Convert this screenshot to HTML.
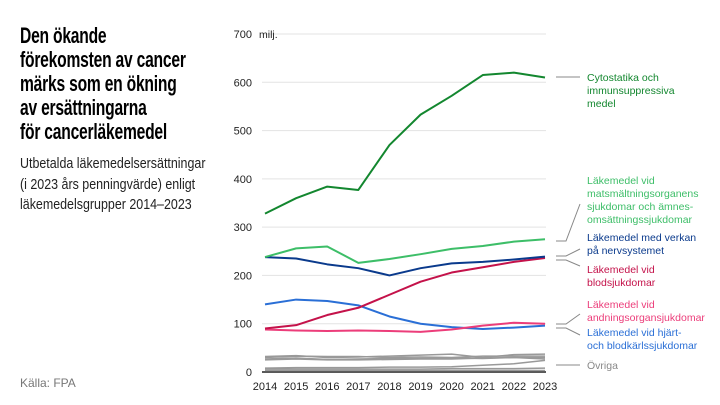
<!DOCTYPE html>
<html><head><meta charset="utf-8"><style>
body{margin:0;width:720px;height:405px;background:#fff;overflow:hidden;font-family:"Liberation Sans",sans-serif;position:relative}
#title{position:absolute;left:20px;top:24px;font-weight:bold;font-size:22px;line-height:24px;color:#000;letter-spacing:-0.3px;transform:scaleX(0.71);transform-origin:0 0;white-space:nowrap}
#sub{position:absolute;left:20px;top:154px;font-size:15px;line-height:20.5px;color:#222;transform:scaleX(0.83);transform-origin:0 0;white-space:nowrap}
#src{position:absolute;left:20px;top:376px;font-size:12px;color:#777}
svg{position:absolute;left:0;top:0}
</style></head><body>
<div id="title">Den ökande<br>förekomsten av cancer<br>märks som en ökning<br>av ersättningarna<br>för cancerläkemedel</div>
<div id="sub">Utbetalda läkemedelsersättningar<br>(i 2023 års penningvärde) enligt<br>läkemedelsgrupper 2014–2023</div>
<div id="src">Källa: FPA</div>
<svg id="chart" width="720" height="405"></svg>
<script>
const years=[2014,2015,2016,2017,2018,2019,2020,2021,2022,2023];
const yTicks=[0,100,200,300,400,500,600,700];
const cyto=[328,360,384,377,470,533,572,615,620,610];
const matsmalt=[238,256,260,226,234,244,255,261,270,275];
const nerv=[238,235,223,215,200,215,225,228,233,239];
const blod=[90,97,118,133,160,187,206,217,228,236];
const andning=[88,86,85,86,85,83,88,96,102,100];
const hjart=[140,150,147,138,115,100,93,89,92,96];
const ovr1=[32,34,30,31,33,35,37,30,36,37];
const ovr2=[30,33,32,32,30,31,30,33,33,33];
const ovr3=[27,29,26,27,28,28,29,28,30,30];
const ovr4=[25,27,25,25,26,27,27,29,30,27];
const ovr5=[8,9,9,9,10,10,11,14,17,24];
const ovr6=[6,6,6,6,6,6,7,7,7,8];
const ovr7=[3,3,3,3,3,3,3,3,3,3];
const svg=document.getElementById('chart');
const NS='http://www.w3.org/2000/svg';
const x=i=>265+i*(545-265)/(years.length-1);
const y=v=>372-v*(372-34)/700;
function mk(t,a){const e=document.createElementNS(NS,t);for(const k in a)e.setAttribute(k,a[k]);svg.appendChild(e);return e;}
yTicks.forEach(t=>{
 const g=mk('line',{x1:262,x2:546,y1:y(t),y2:y(t),stroke:t===0?'#222':'#e3e3e3','stroke-width':t===0?1.5:1});
 
 
 const l=mk('text',{x:252,y:y(t)+4,'text-anchor':'end','font-size':11,fill:'#222'});
 l.textContent=t;
 
 
});
const mu=mk('text',{x:259,y:38,'font-size':10.5,fill:'#222'});mu.textContent='milj.';


years.forEach((yr,i)=>{
 const t=mk('text',{x:x(i),y:390,'text-anchor':'middle','font-size':11,fill:'#222'});
 t.textContent=yr;
 
 
});
function line(d,c,w,name){
 const p=mk('polyline',{points:d.map((v,i)=>x(i)+','+y(v)).join(' '),fill:'none',stroke:c,'stroke-width':w,'stroke-linejoin':'round'});
 
 
}
[ovr1,ovr2,ovr3,ovr4,ovr5,ovr6,ovr7].forEach((d,k)=>line(d,'#999',1.5,'line-ovriga-'+(k+1)));
line(hjart,'#2a6fd6',2,'line-hjart');
line(andning,'#ec3d7a',2,'line-andning');
line(blod,'#c4124a',2,'line-blod');
line(nerv,'#0a3a8c',2,'line-nerv');
line(matsmalt,'#3dbe68',2,'line-matsmalt');
line(cyto,'#13872f',2,'line-cyto');
function conn(pts,name){
 const p=mk('polyline',{points:pts,fill:'none',stroke:'#888','stroke-width':1});
 
 
}
conn('556,77 580,77','connector-cyto');
conn('556,241 566,241 580,204','connector-matsmalt');
conn('556,256 566,256 580,249','connector-nerv');
conn('556,260 566,260 580,266','connector-blod');
conn('556,324 566,324 580,314','connector-andning');
conn('556,328 566,328 580,335','connector-hjart');
conn('556,365 580,365','connector-ovriga');
function lbl(lines,c,top,name){
 const t=mk('text',{x:587,y:top,'font-size':10.5,fill:c});
 
 
 lines.forEach((s,i)=>{const ts=document.createElementNS(NS,'tspan');ts.setAttribute('x',587);ts.setAttribute('dy',i?13:0);ts.textContent=s;t.appendChild(ts);});
}
lbl(['Cytostatika och','immunsuppressiva','medel'],'#13872f',81,'label-cyto');
lbl(['Läkemedel vid','matsmältningsorganens','sjukdomar och ämnes-','omsättningssjukdomar'],'#3dbe68',184,'label-matsmalt');
lbl(['Läkemedel med verkan','på nervsystemet'],'#0a3a8c',241,'label-nerv');
lbl(['Läkemedel vid','blodsjukdomar'],'#c4124a',273,'label-blod');
lbl(['Läkemedel vid','andningsorgansjukdomar'],'#ec3d7a',308,'label-andning');
lbl(['Läkemedel vid hjärt-','och blodkärlssjukdomar'],'#2a6fd6',336,'label-hjart');
lbl(['Övriga'],'#888',369,'label-ovriga');
</script>
</body></html>
